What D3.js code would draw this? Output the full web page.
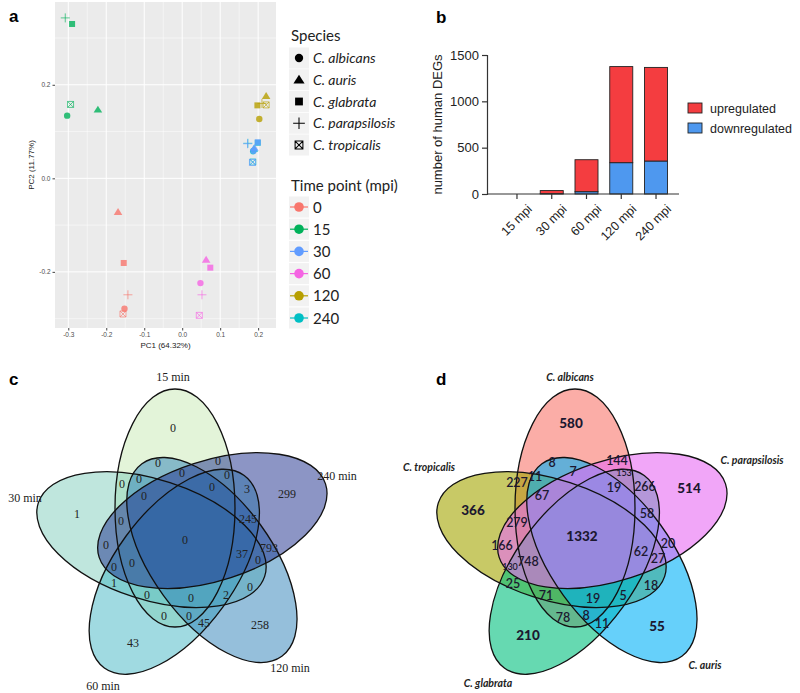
<!DOCTYPE html>
<html><head><meta charset="utf-8">
<script src="https://cdn.jsdelivr.net/npm/d3@7"></script>
<style>body{margin:0;background:#fff}svg{display:block}</style>
</head><body>
<svg id="chart" width="800" height="693"></svg>
<script>
// ---------------- Panel a data ----------------
const speciesNames = ["C. albicans","C. auris","C. glabrata","C. parapsilosis","C. tropicalis"];
const timePoints = ["0","15","30","60","120","240"];
const timeColors = ["#F8766D","#00B15A","#619CFF","#F564E3","#B79F00","#00BFC4"];
// one entry per sample (time x species)
const pcaTime    = ["0","0","0","0","0", "15","15","15","15","15", "240","240","240","240","240", "30","30","30","30","30", "60","60","60","60","60", "120","120","120","120","120"];
const pcaSpecies = [0,1,2,3,4, 0,1,2,3,4, 0,1,2,3,4, 0,1,2,3,4, 0,1,2,3,4, 0,1,2,3,4];
const pcaPC1 = [-0.152,-0.169,-0.154,-0.143,-0.156,  -0.303,-0.222,-0.290,-0.308,-0.294,
                0.187,0.189,0.199,0.173,0.186,  0.188,0.190,0.199,0.172,0.185,
                0.048,0.063,0.074,0.052,0.045,  0.203,0.221,0.198,0.210,0.221];
const pcaPC2 = [-0.279,-0.072,-0.181,-0.249,-0.290,  0.134,0.147,0.330,0.343,0.158,
                0.058,0.063,0.076,0.075,0.035,  0.059,0.065,0.077,0.074,0.034,
                -0.224,-0.174,-0.191,-0.249,-0.293,  0.127,0.176,0.156,0.160,0.157];
const pcaXTicks = [-0.3,-0.2,-0.1,0.0,0.1,0.2];
const pcaYTicks = [-0.2,0.0,0.2];

// ---------------- Panel b data ----------------
const degCats = ["15 mpi","30 mpi","60 mpi","120 mpi","240 mpi"];
const degDown = [0, 4, 25, 338, 356];
const degUp   = [0, 33, 345, 1037, 1010];
const degYTicks = [0, 500, 1000, 1500];
const degSeries = ["upregulated","downregulated"];
const degColors = ["#F43D40","#4E98EF"];

// ---------------- Panel c data ----------------
const vennCNames = ["15 min","240 min","120 min","60 min","30 min"];
const vennCColors = ["#c7e9b4","#1a2b8c","#2c7fb8","#41b6c4","#7fcdbb"];
const vennCCounts = [0,0,0,0,0,0,0,0,0,3,299,1,0,245,0,0,793,37,0,0,0,1,0,0,0,2,0,0,45,258,43];
// ---------------- Panel d data ----------------
const vennDNames = ["C. albicans","C. parapsilosis","C. auris","C. glabrata","C. tropicalis"];
const vennDColors = ["#F8766D","#E76BF3","#00B0F6","#00BF7D","#A3A500"];
const vennDCounts = [580,8,144,7,153,227,11,19,266,514,67,366,58,279,1332,166,20,62,748,27,130,25,18,71,19,5,78,8,11,55,210];

// ---------------- layout (label anchors, relative to the Venn centre) ----------------
const vennCAnchors = [[-12,-112],[-27,-77],[33,-79],[-3,-67],[42,-65],[-63,-56],[-46,-61],[-41,-44],[27,-53],[62,-51],[102,-46],
  [-108,-26],[-64,-19],[63,-21],[-79,5],[0,0],[84,8],[57,14],[-53,23],[-71,27],[73,20],[-71,43],[65,47],[-38,55],[6,58],[41,55],
  [-21,76],[4,76],[19,83],[75,85],[-52,103]];
const vennDAnchors = [[-14,-117],[-33,-77],[32,-79],[-12,-68],[39,-67],[-68,-57],[-50,-63],[29,-52],[60,-53],[104,-52],[-43,-44],
  [-112,-30],[62,-26],[-68,-17],[-3,-4],[-83,6],[83,4],[56,12],[-57,22],[73,19],[-75,27],[-72,44],[66,46],[-39,56],[8,59],[38,56],
  [-22,78],[1,76],[17,84],[72,86],[-57,95]];
const vennCNameAnchors = [[-12,-163],[152,-64],[105,128],[-82,146],[-160,-42]];
const vennDNameAnchors = [[-15,-163],[167,-80],[120,125],[-97,143],[-156,-73]];

const svg = d3.select("#chart");

// ================= Panel a =================
const gA = svg.append("g");
const ax = d3.scaleLinear().domain([-0.335,0.247]).range([55,276]);
const ay = d3.scaleLinear().domain([-0.32,0.377]).range([328,2]);
gA.append("rect").attr("x",ax.range()[0]).attr("y",ay.range()[1]).attr("width",ax.range()[1]-ax.range()[0]).attr("height",ay.range()[0]-ay.range()[1]).attr("fill","#ebebeb");
const xMinor = d3.range(-0.25,0.25,0.1), yMinor = [-0.3,-0.1,0.1,0.3];
gA.selectAll(".xm").data(xMinor).join("line").attr("x1",d=>ax(d)).attr("x2",d=>ax(d)).attr("y1",ay.range()[0]).attr("y2",ay.range()[1]).attr("stroke","#fff").attr("stroke-width",0.5);
gA.selectAll(".ym").data(yMinor).join("line").attr("y1",d=>ay(d)).attr("y2",d=>ay(d)).attr("x1",ax.range()[0]).attr("x2",ax.range()[1]).attr("stroke","#fff").attr("stroke-width",0.5);
gA.selectAll(".xM").data(pcaXTicks).join("line").attr("x1",d=>ax(d)).attr("x2",d=>ax(d)).attr("y1",ay.range()[0]).attr("y2",ay.range()[1]).attr("stroke","#fff").attr("stroke-width",1);
gA.selectAll(".yM").data(pcaYTicks).join("line").attr("y1",d=>ay(d)).attr("y2",d=>ay(d)).attr("x1",ax.range()[0]).attr("x2",ax.range()[1]).attr("stroke","#fff").attr("stroke-width",1);

const axB = gA.append("g").attr("transform",`translate(0,${ay.range()[0]})`)
  .call(d3.axisBottom(ax).tickValues(pcaXTicks).tickSize(2.5).tickPadding(2).tickFormat(d=>d.toFixed(1)));
const axL = gA.append("g").attr("transform",`translate(${ax.range()[0]},0)`)
  .call(d3.axisLeft(ay).tickValues(pcaYTicks).tickSize(2.5).tickPadding(2).tickFormat(d=>d.toFixed(1)));
[axB,axL].forEach(a=>{a.select(".domain").remove();a.selectAll("line").attr("stroke","#444");
  a.selectAll("text").attr("fill","#4d4d4d").style("font-family","Liberation Sans, Arial").style("font-size","6.5px");});
gA.append("text").attr("x",(ax.range()[0]+ax.range()[1])/2).attr("y",348).attr("text-anchor","middle")
  .style("font-family","Liberation Sans, Arial").style("font-size","8px").attr("fill","#222").text("PC1 (64.32%)");
gA.append("text").attr("transform",`translate(34,${(ay.range()[0]+ay.range()[1])/2}) rotate(-90)`).attr("text-anchor","middle")
  .style("font-family","Liberation Sans, Arial").style("font-size","8px").attr("fill","#222").text("PC2 (11.77%)");

function drawSymbol(g, s, x, y, color, k, op){
  const p = d3.path();
  if (s===0){ g.append("circle").attr("cx",x).attr("cy",y).attr("r",3.2*k).attr("fill",color).attr("opacity",op); return; }
  if (s===1){ const h=3.9*k; p.moveTo(x,y-h); p.lineTo(x+h*1.1,y+h*0.75); p.lineTo(x-h*1.1,y+h*0.75); p.closePath();
    g.append("path").attr("d",p.toString()).attr("fill",color).attr("opacity",op); return; }
  if (s===2){ const h=3*k; g.append("rect").attr("x",x-h).attr("y",y-h).attr("width",2*h).attr("height",2*h).attr("fill",color).attr("opacity",op); return; }
  if (s===3){ const h=4.5*k; p.moveTo(x-h,y); p.lineTo(x+h,y); p.moveTo(x,y-h); p.lineTo(x,y+h);
    g.append("path").attr("d",p.toString()).attr("stroke",color).attr("stroke-width",0.8*k).attr("fill","none").attr("opacity",op); return; }
  const h=3*k; p.rect(x-h,y-h,2*h,2*h); p.moveTo(x-h,y-h); p.lineTo(x+h,y+h); p.moveTo(x+h,y-h); p.lineTo(x-h,y+h);
  g.append("path").attr("d",p.toString()).attr("stroke",color).attr("stroke-width",0.8*k).attr("fill","none").attr("opacity",op);
}
const tColor = d3.scaleOrdinal().domain(timePoints).range(timeColors);
const gPts = gA.append("g");
pcaPC1.forEach((v,i)=>drawSymbol(gPts, pcaSpecies[i], ax(v), ay(pcaPC2[i]), tColor(pcaTime[i]), 1, 0.8));

// legends
const LF = "Lato, 'Open Sans', sans-serif";
gA.append("text").attr("x",291).attr("y",41).style("font-family",LF).style("font-size","15px").attr("fill","#222").text("Species");
const spY = d3.scalePoint().domain(speciesNames).range([58,145]);
speciesNames.forEach((n,i)=>{
  gA.append("rect").attr("x",289).attr("y",spY(n)-10.5).attr("width",20).attr("height",21).attr("fill","#f2f2f2");
  drawSymbol(gA, i, 299, spY(n), "#000", 1.3, 1);
  gA.append("text").attr("x",313).attr("y",spY(n)+5).style("font-family",LF).style("font-style","italic").style("font-size","14px").attr("fill","#222").text(n);
});
gA.append("text").attr("x",291).attr("y",191).style("font-family",LF).style("font-size","15px").attr("fill","#222").text("Time point (mpi)");
const tpY = d3.scalePoint().domain(timePoints).range([207,318]);
timePoints.forEach(t=>{
  gA.append("rect").attr("x",289).attr("y",tpY(t)-10.5).attr("width",20).attr("height",21).attr("fill","#f2f2f2");
  gA.append("line").attr("x1",290).attr("x2",308).attr("y1",tpY(t)).attr("y2",tpY(t)).attr("stroke",tColor(t)).attr("stroke-width",1.2);
  gA.append("circle").attr("cx",299).attr("cy",tpY(t)).attr("r",4.8).attr("fill",tColor(t));
  gA.append("text").attr("x",313).attr("y",tpY(t)+5.5).style("font-family",LF).style("font-size","15px").attr("fill","#222").text(t);
});
svg.append("text").attr("x",9).attr("y",22).style("font-family","Liberation Sans, Arial").style("font-weight","bold").style("font-size","17px").text("a");

// ================= Panel b =================
const gB = svg.append("g");
const AF = "Liberation Sans, Arial, sans-serif";
const bx = d3.scaleBand().domain(degCats).range([494,679]).paddingInner(0.338).paddingOuter(0.33);
const by = d3.scaleLinear().domain([0,1500]).range([194,55]);
degCats.forEach((c,i)=>{
  gB.append("rect").attr("x",bx(c)).attr("width",bx.bandwidth()).attr("y",by(degDown[i])).attr("height",by(0)-by(degDown[i]))
    .attr("fill",degColors[1]).attr("stroke",degDown[i]>0?"#222":"none").attr("stroke-width",0.9);
  gB.append("rect").attr("x",bx(c)).attr("width",bx.bandwidth()).attr("y",by(degDown[i]+degUp[i])).attr("height",by(degDown[i])-by(degDown[i]+degUp[i]))
    .attr("fill",degColors[0]).attr("stroke",degUp[i]>0?"#222":"none").attr("stroke-width",0.9);
});
const byAx = gB.append("g").attr("transform","translate(487,0)").call(d3.axisLeft(by).tickValues(degYTicks).tickSize(5).tickPadding(3).tickFormat(d3.format("d")));
byAx.select(".domain").attr("stroke","#333").attr("stroke-width",1.2);
byAx.selectAll("line").attr("stroke","#333").attr("stroke-width",1.2);
byAx.selectAll("text").style("font-family",AF).style("font-size","13px").attr("fill","#222");
gB.append("line").attr("x1",487).attr("x2",679).attr("y1",by(0)).attr("y2",by(0)).attr("stroke","#333").attr("stroke-width",1.2);
const bxAx = gB.append("g").attr("transform",`translate(0,${by(0)})`).call(d3.axisBottom(bx).tickSize(5).tickPadding(3));
bxAx.select(".domain").remove();
bxAx.selectAll("line").attr("stroke","#333").attr("stroke-width",1.2);
bxAx.selectAll("text").style("font-family",AF).style("font-size","12.5px").attr("fill","#222")
  .attr("text-anchor","end").attr("transform","translate(4,4) rotate(-45)").attr("dy","0.7em");
gB.append("text").attr("transform",`translate(442,${(by(0)+by(1500))/2}) rotate(-90)`).attr("text-anchor","middle")
  .style("font-family",AF).style("font-size","13px").attr("fill","#222").text("number of human DEGs");
const lgY = d3.scalePoint().domain(degSeries).range([108,128]);
degSeries.forEach((s,i)=>{
  gB.append("rect").attr("x",688).attr("y",lgY(s)-5).attr("width",14).attr("height",10).attr("fill",degColors[i]).attr("stroke","#222").attr("stroke-width",0.9);
  gB.append("text").attr("x",710).attr("y",lgY(s)+4.5).style("font-family",AF).style("font-size","12.5px").attr("fill","#222").text(s);
});
svg.append("text").attr("x",436).attr("y",23).style("font-family","Liberation Sans, Arial").style("font-weight","bold").style("font-size","17px").text("b");

// ================= Venn geometry =================
const vScale = d3.scaleLinear().domain([0,1]).range([0,1]); // unit = px
const semiMajor = 119, semiMinor = 60, offX = -10, offY = -32;
function ellipseParams(k){
  const a = k*72*Math.PI/180;
  return {dx: offX*Math.cos(a)-offY*Math.sin(a), dy: offX*Math.sin(a)+offY*Math.cos(a), rot: -90+72*k};
}
function drawVenn(cx, cy, names, colors, op, counts, anchors, nameAnchors, numStyle, nameStyle, order){
  const g = svg.append("g").attr("transform",`translate(${cx},${cy})`);
  order.forEach(k=>{
    const e = ellipseParams(k);
    g.append("ellipse").attr("cx",vScale(e.dx)).attr("cy",vScale(e.dy)).attr("rx",vScale(semiMajor)).attr("ry",vScale(semiMinor))
      .attr("transform",`rotate(${e.rot},${vScale(e.dx)},${vScale(e.dy)})`)
      .attr("fill",colors[k]).attr("fill-opacity",op).attr("stroke","none");
  });
  order.forEach(k=>{
    const e = ellipseParams(k);
    g.append("ellipse").attr("cx",vScale(e.dx)).attr("cy",vScale(e.dy)).attr("rx",vScale(semiMajor)).attr("ry",vScale(semiMinor))
      .attr("transform",`rotate(${e.rot},${vScale(e.dx)},${vScale(e.dy)})`)
      .attr("fill","none").attr("stroke","#111").attr("stroke-width",1.3);
  });
  counts.forEach((c,i)=>{
    const t = g.append("text").attr("x",vScale(anchors[i][0])).attr("y",vScale(anchors[i][1])).attr("dy","0.35em").attr("text-anchor","middle").text(c);
    numStyle(t,c,i);
  });
  names.forEach((n,i)=>{
    const t = g.append("text").attr("x",vScale(nameAnchors[i][0])).attr("y",vScale(nameAnchors[i][1])).attr("dy","0.35em").attr("text-anchor","middle").text(n);
    nameStyle(t);
  });
}
const SF = "Liberation Serif, 'Times New Roman', serif";
drawVenn(185,540,vennCNames,vennCColors,0.5,vennCCounts,vennCAnchors,vennCNameAnchors,
  (t)=>t.style("font-family",SF).style("font-size","12px").attr("fill","#222"),
  (t)=>t.style("font-family",SF).style("font-size","12px").attr("fill","#222"),
  [0,4,3,2,1]);
svg.append("text").attr("x",9).attr("y",385).style("font-family","Liberation Sans, Arial").style("font-weight","bold").style("font-size","17px").text("c");

const bigSet = new Set([0,9,11,14,29,30]);
const smallSet = new Set([4,20]);
drawVenn(585,540,vennDNames,vennDColors,0.6,vennDCounts,vennDAnchors,vennDNameAnchors,
  (t,c,i)=>t.style("font-family","Lato, 'Open Sans', sans-serif").style("font-weight",bigSet.has(i)?"900":"600")
     .style("font-size",smallSet.has(i)?"9px":(bigSet.has(i)?"13.5px":"12.5px")).attr("fill","#1c1830"),
  (t)=>t.style("font-family","Lato, 'Open Sans', sans-serif").style("font-style","italic").style("font-weight","700").style("font-size","10.5px").attr("fill","#222"),
  [0,4,3,2,1]);
svg.append("text").attr("x",436).attr("y",385).style("font-family","Liberation Sans, Arial").style("font-weight","bold").style("font-size","17px").text("d");
</script>
</body></html>
